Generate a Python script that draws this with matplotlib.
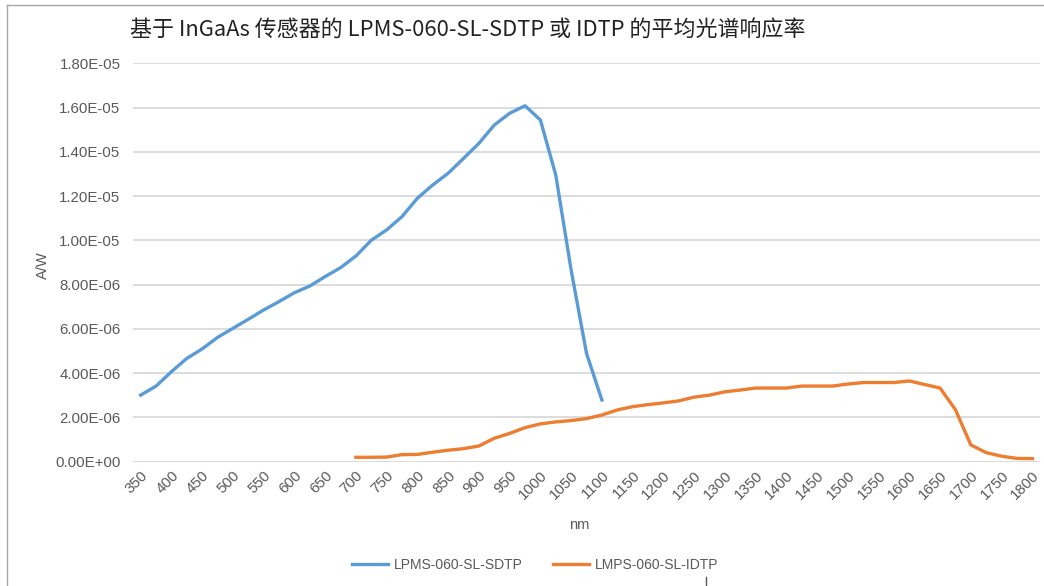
import matplotlib
matplotlib.use("Agg")
import matplotlib.pyplot as plt
from matplotlib.ticker import FuncFormatter, FixedLocator
from matplotlib.lines import Line2D

plt.rcParams['font.family'] = ['Liberation Sans', 'Noto Sans CJK SC', 'DejaVu Sans']

title = "基于 InGaAs 传感器的 LPMS-060-SL-SDTP 或 IDTP 的平均光谱响应率"
x_label = "nm"
y_label = "A/W"
series_names = ["LPMS-060-SL-SDTP", "LMPS-060-SL-IDTP"]

sdtp_nm = [350, 375, 400, 425, 450, 475, 500, 525, 550, 575, 600, 625, 650, 675,
           700, 725, 750, 775, 800, 825, 850, 875, 900, 925, 950, 975, 1000, 1025,
           1050, 1075, 1100]
sdtp_val = [3.00e-6, 3.41e-6, 4.06e-6, 4.66e-6, 5.09e-6, 5.61e-6, 6.02e-6, 6.43e-6,
            6.85e-6, 7.23e-6, 7.63e-6, 7.93e-6, 8.36e-6, 8.76e-6, 9.29e-6, 1.000e-5,
            1.047e-5, 1.107e-5, 1.190e-5, 1.250e-5, 1.303e-5, 1.370e-5, 1.438e-5,
            1.521e-5, 1.574e-5, 1.608e-5, 1.544e-5, 1.295e-5, 8.66e-6, 4.89e-6, 2.78e-6]

idtp_nm = [700, 725, 750, 775, 800, 825, 850, 875, 900, 925, 950, 975, 1000, 1025,
           1050, 1075, 1100, 1125, 1150, 1175, 1200, 1225, 1250, 1275, 1300, 1325,
           1350, 1375, 1400, 1425, 1450, 1475, 1500, 1525, 1550, 1575, 1600, 1625,
           1650, 1675, 1700, 1725, 1750, 1775, 1800]
idtp_val = [1.9e-7, 1.9e-7, 2.0e-7, 3.1e-7, 3.2e-7, 4.2e-7, 5.1e-7, 5.8e-7, 7.0e-7,
            1.05e-6, 1.27e-6, 1.53e-6, 1.70e-6, 1.79e-6, 1.85e-6, 1.94e-6, 2.10e-6,
            2.33e-6, 2.48e-6, 2.57e-6, 2.65e-6, 2.74e-6, 2.91e-6, 3.00e-6, 3.15e-6,
            3.23e-6, 3.32e-6, 3.32e-6, 3.32e-6, 3.41e-6, 3.41e-6, 3.41e-6, 3.50e-6,
            3.57e-6, 3.57e-6, 3.57e-6, 3.64e-6, 3.48e-6, 3.32e-6, 2.34e-6, 7.5e-7,
            4.0e-7, 2.4e-7, 1.4e-7, 1.3e-7]

x_ticks = [350, 400, 450, 500, 550, 600, 650, 700, 750, 800, 850, 900, 950, 1000,
           1050, 1100, 1150, 1200, 1250, 1300, 1350, 1400, 1450, 1500, 1550, 1600,
           1650, 1700, 1750, 1800]
y_ticks = [0, 2e-6, 4e-6, 6e-6, 8e-6, 1e-5, 1.2e-5, 1.4e-5, 1.6e-5, 1.8e-5]

W, H = 1044, 586
fig = plt.figure(figsize=(W / 100, H / 100), dpi=100)
ax = fig.add_axes([133 / W, 1 - 461.5 / H, (1040 - 133) / W, (461.5 - 63.3) / H])

blue = "#5B9BD5"
orange = "#ED7D31"
tick_color = "#595959"

ax.plot(sdtp_nm, sdtp_val, color=blue, lw=2.4, label=series_names[0], solid_joinstyle='round')
ax.plot(idtp_nm, idtp_val, color=orange, lw=2.4, label=series_names[1], solid_joinstyle='round')

ax.set_xlim(337.5, 1812.5)
ax.set_ylim(0, 1.8e-5)
ax.yaxis.set_major_locator(FixedLocator(y_ticks))
ax.yaxis.set_major_formatter(FuncFormatter(lambda v, p: f"{v:.2E}"))
ax.set_xticks(x_ticks)
ax.set_xticklabels([str(t) for t in x_ticks], rotation=45, ha='right', va='top',
                   rotation_mode='anchor')
ax.grid(axis='y', color='#D9D9D9', lw=1.3)
ax.set_axisbelow(True)
for s in ax.spines.values():
    s.set_visible(False)
ax.tick_params(axis='both', length=0, colors=tick_color, labelsize=10.8)
ax.tick_params(axis='y', pad=9)
ax.tick_params(axis='x', pad=5)

fig.text(579 / W, 1 - 525 / H, x_label, ha='center', va='center', color=tick_color, fontsize=10.5)
fig.text(43 / W, 1 - 265 / H, y_label, ha='center', va='center', rotation=90,
         color=tick_color, fontsize=10.5)

fig.text(130 / W, 1 - 30 / H, title, ha='left', va='center', color='#222222',
         fontsize=15.8, family=['Noto Sans CJK SC', 'DejaVu Sans'])

leg = fig.legend(loc='center', bbox_to_anchor=(535 / W, 1 - 565 / H), ncol=2, frameon=False,
                 fontsize=10, handlelength=2.6, columnspacing=2.2, handletextpad=0.4)
for t in leg.get_texts():
    t.set_color(tick_color)

# chart border
fig.add_artist(Line2D([7 / W, 7 / W], [0, 1 - 5 / H], transform=fig.transFigure,
                      color='#A6A6A6', lw=1))
fig.add_artist(Line2D([7 / W, 1], [1 - 5 / H, 1 - 5 / H], transform=fig.transFigure,
                      color='#A6A6A6', lw=1))
fig.add_artist(Line2D([706 / W, 706 / W], [0, 1 - 577 / H], transform=fig.transFigure,
                      color='#595959', lw=1))

fig.savefig("out.png", dpi=100)
